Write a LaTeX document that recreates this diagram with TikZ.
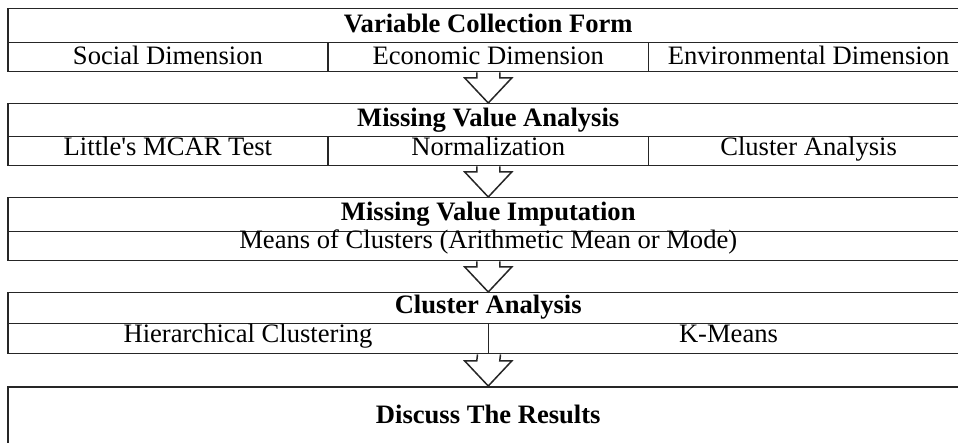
\documentclass[tikz,border=0pt]{standalone}
\usepackage{fontspec}
\newfontfamily\lsf{Liberation Serif}
\usetikzlibrary{calc}
\tikzset{
  row/.style={draw=black!85, line width=1.5pt, inner sep=0pt, anchor=north west,
              font=\lsf\fontsize{26.6}{30}\selectfont, align=center},
  ttl/.style={row, font=\lsf\bfseries\fontsize{26.6}{30}\selectfont},
  barrow/.style={draw=black!85, line width=1.5pt, fill=white, line join=miter}
}
\begin{document}
\begin{tikzpicture}[x=1pt,y=-1pt]
\useasboundingbox (0,0) rectangle (958,443);
\clip (0,0) rectangle (958,443);
% block 1
\node[ttl, minimum width=961pt, text height=24pt, text depth=10pt] (b1) at (7,8) {Variable Collection Form};
\node[row, minimum width=320.33pt, text height=22pt, text depth=7pt] (b1a) at (7,42) {Social Dimension};
\node[row, minimum width=320.33pt, text height=22pt, text depth=7pt] (b1b) at (327.33,42) {Economic Dimension};
\node[row, minimum width=320.33pt, text height=22pt, text depth=7pt] (b1c) at (647.67,42) {Environmental Dimension};
% block 2
\node[ttl, minimum width=961pt, text height=23pt, text depth=10pt] (b2) at (7,103) {Missing Value Analysis};
\node[row, minimum width=320.33pt, text height=19pt, text depth=10pt] (b2a) at (7,136) {Little's MCAR Test};
\node[row, minimum width=320.33pt, text height=19pt, text depth=10pt] (b2b) at (327.33,136) {Normalization};
\node[row, minimum width=320.33pt, text height=19pt, text depth=10pt] (b2c) at (647.67,136) {Cluster Analysis};
% block 3
\node[ttl, minimum width=961pt, text height=23pt, text depth=11pt] (b3) at (7,197) {Missing Value Imputation};
\node[row, minimum width=961pt, text height=17pt, text depth=12pt] (b3a) at (7,231) {Means of Clusters (Arithmetic Mean or Mode)};
% block 4
\node[ttl, minimum width=961pt, text height=21pt, text depth=10pt] (b4) at (7,292) {Cluster Analysis};
\node[row, minimum width=480.5pt, text height=19pt, text depth=11pt] (b4a) at (7,323) {Hierarchical Clustering};
\node[row, minimum width=480.5pt, text height=19pt, text depth=11pt] (b4b) at (487.5,323) {K-Means};
% block 5
\node[ttl, minimum width=961pt, text height=37pt, text depth=37pt] (b5) at (7,386) {Discuss The Results};
% block arrows
\draw[barrow] ($(b1b.south)+(-11.5,0)$) -- ($(b2.north)+(-11.5,-25)$) -- ($(b2.north)+(-23.5,-25)$) -- (b2.north)
  -- ($(b2.north)+(23.5,-25)$) -- ($(b2.north)+(11.5,-25)$) -- ($(b1b.south)+(11.5,0)$);
\draw[barrow] ($(b2b.south)+(-11.5,0)$) -- ($(b3.north)+(-11.5,-25)$) -- ($(b3.north)+(-23.5,-25)$) -- (b3.north)
  -- ($(b3.north)+(23.5,-25)$) -- ($(b3.north)+(11.5,-25)$) -- ($(b2b.south)+(11.5,0)$);
\draw[barrow] ($(b3a.south)+(-11.5,0)$) -- ($(b4.north)+(-11.5,-25)$) -- ($(b4.north)+(-23.5,-25)$) -- (b4.north)
  -- ($(b4.north)+(23.5,-25)$) -- ($(b4.north)+(11.5,-25)$) -- ($(b3a.south)+(11.5,0)$);
\draw[barrow] ($(b4a.south east)+(-11.5,0)$) -- ($(b5.north)+(-11.5,-25)$) -- ($(b5.north)+(-23.5,-25)$) -- (b5.north)
  -- ($(b5.north)+(23.5,-25)$) -- ($(b5.north)+(11.5,-25)$) -- ($(b4a.south east)+(11.5,0)$);
\end{tikzpicture}
\end{document}
